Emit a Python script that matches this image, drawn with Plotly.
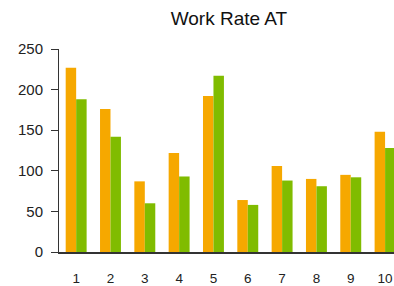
import plotly.graph_objects as go

categories = [str(i) for i in range(1, 11)]
series_a = [227, 176, 87, 122, 192, 64, 106, 90, 95, 148]
series_b = [188, 142, 60, 93, 217, 58, 88, 81, 92, 128]
y_ticks = [0, 50, 100, 150, 200, 250]

fig = go.Figure()
fig.add_trace(go.Bar(x=categories, y=series_a, marker=dict(color="#F6A800", line=dict(width=0)), name="A"))
fig.add_trace(go.Bar(x=categories, y=series_b, marker=dict(color="#80BC00", line=dict(width=0)), name="B"))

fig.update_layout(
    width=394, height=286,
    margin=dict(l=59, r=0, t=49, b=34, autoexpand=False),
    paper_bgcolor="white", plot_bgcolor="white",
    barmode="group", bargap=0.39, bargroupgap=0,
    showlegend=False,
    font=dict(family="Liberation Sans, Arial, sans-serif", size=13, color="#222"),
    title=dict(text="Work Rate AT", x=0.581, xanchor="center", y=0.935, yanchor="middle",
               font=dict(size=19, color="#111")),
    xaxis=dict(type="category", range=[-0.5, 9.26], showline=True, linecolor="#333", linewidth=2,
               ticks="", ticklabelstandoff=13, tickfont=dict(size=13.5),
               showgrid=False, zeroline=False, automargin=False),
    yaxis=dict(range=[0, 250], tickvals=y_ticks, showline=True, linecolor="#333", linewidth=1,
               ticks="outside", ticklen=7, tickcolor="#333", ticklabelstandoff=5,
               tickfont=dict(size=15),
               showgrid=False, zeroline=False, automargin=False),
)
fig.write_html("out.html", config={"displayModeBar": False},
               post_script="document.body.style.margin='0';document.body.style.overflow='hidden';")
